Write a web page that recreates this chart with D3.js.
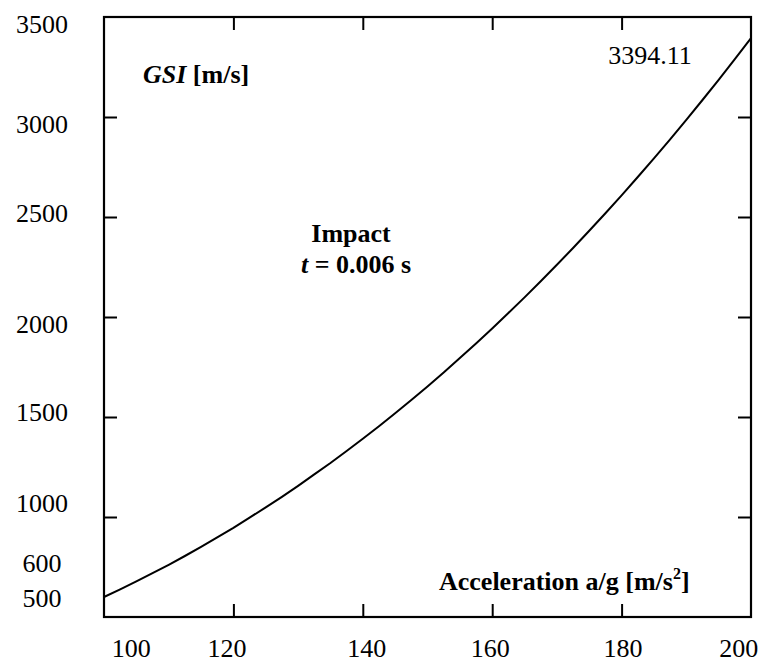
<!DOCTYPE html>
<html>
<head>
<meta charset="utf-8">
<script src="https://cdn.jsdelivr.net/npm/d3@7"></script>
<style>
  html, body { margin: 0; padding: 0; background: #fff; }
  svg { display: block; font-family: "Liberation Serif", "Times New Roman", serif; }
</style>
</head>
<body>
<svg id="chart" width="762" height="662"></svg>
<script>
// Acceleration a/g values (x) and GSI values (y)
const accel = [100, 102.5, 105, 107.5, 110, 112.5, 115, 117.5, 120, 122.5, 125,
               127.5, 130, 132.5, 135, 137.5, 140, 142.5, 145, 147.5, 150,
               152.5, 155, 157.5, 160, 162.5, 165, 167.5, 170, 172.5, 175,
               177.5, 180, 182.5, 185, 187.5, 190, 192.5, 195, 197.5, 200];
const gsi   = [600, 638, 678, 719, 761, 805, 851, 898, 946, 997, 1048,
               1101, 1156, 1213, 1270, 1330, 1391, 1454, 1519, 1585, 1653,
               1723, 1795, 1868, 1943, 2020, 2098, 2179, 2261, 2345, 2431,
               2519, 2608, 2700, 2793, 2888, 2986, 3085, 3186, 3289, 3394.11];

// Axis ticks
const xTicks = [120, 140, 160, 180];
const yTicks = [1000, 1500, 2000, 2500, 3000];
// Tick labels and the value each label sits at in the reference
const xTickLabels = ["100", "120", "140", "160", "180", "200"];
const xLabelAt    = [104.2, 119, 140.6, 159.7, 180.2, 198.1];
const yTickLabels = ["3500", "3000", "2500", "2000", "1500", "1000", "600", "500"];
const yLabelAt    = [3465, 2965, 2520, 1965, 1525, 1070, 770, 595];

const svg = d3.select("#chart");
const L = 104, R = 751, T = 17, B = 617;

const x = d3.scaleLinear().domain([100, 200]).range([L, R]);
const y = d3.scaleLinear().domain([500, 3500]).range([B, T]);

const tickLen = 13;
const fs = 26;

// ticks (inward) on all four sides
const axisStyle = g => {
  g.select(".domain").remove();
  g.selectAll(".tick line").attr("stroke", "#000").attr("stroke-width", 2);
  g.selectAll(".tick text").remove();
};
svg.append("g").attr("transform", `translate(0,${B})`)
  .call(d3.axisTop(x).tickValues(xTicks).tickSize(tickLen)).call(axisStyle);
svg.append("g").attr("transform", `translate(0,${T})`)
  .call(d3.axisBottom(x).tickValues(xTicks).tickSize(tickLen)).call(axisStyle);
svg.append("g").attr("transform", `translate(${L},0)`)
  .call(d3.axisRight(y).tickValues(yTicks).tickSize(tickLen)).call(axisStyle);
svg.append("g").attr("transform", `translate(${R},0)`)
  .call(d3.axisLeft(y).tickValues(yTicks).tickSize(tickLen)).call(axisStyle);

// frame
svg.append("rect")
  .attr("x", x(100)).attr("y", y(3500))
  .attr("width", x(200) - x(100)).attr("height", y(500) - y(3500))
  .attr("fill", "none").attr("stroke", "#000").attr("stroke-width", 2.2);

// curve
const pts = accel.map((a, i) => [a, gsi[i]]);
svg.append("path")
  .datum(pts)
  .attr("d", d3.line().x(d => x(d[0])).y(d => y(d[1])))
  .attr("fill", "none").attr("stroke", "#000").attr("stroke-width", 2)
  .attr("stroke-linejoin", "round");

// x tick labels
svg.append("g").selectAll("text")
  .data(xTickLabels)
  .join("text")
  .attr("x", (d, i) => x(xLabelAt[i]))
  .attr("y", 657)
  .attr("text-anchor", "middle")
  .attr("font-size", fs)
  .text(d => d);

// y tick labels
svg.append("g").selectAll("text")
  .data(yTickLabels)
  .join("text")
  .attr("x", 42)
  .attr("y", (d, i) => y(yLabelAt[i]))
  .attr("dy", "0.35em")
  .attr("text-anchor", "middle")
  .attr("font-size", fs)
  .text(d => d);

// annotations
const gsiLab = svg.append("text").attr("x", 143).attr("y", 83)
  .attr("font-size", fs).attr("font-weight", "bold");
gsiLab.append("tspan").attr("font-style", "italic").text("GSI");
gsiLab.append("tspan").text(" [m/s]");

svg.append("text").attr("x", 650).attr("y", 64)
  .attr("text-anchor", "middle").attr("font-size", fs)
  .text("3394.11");

svg.append("text").attr("x", 351).attr("y", 242)
  .attr("text-anchor", "middle").attr("font-size", fs).attr("font-weight", "bold")
  .text("Impact");
const tLab = svg.append("text").attr("x", 356).attr("y", 273)
  .attr("text-anchor", "middle").attr("font-size", fs).attr("font-weight", "bold");
tLab.append("tspan").attr("font-style", "italic").text("t");
tLab.append("tspan").text(" = 0.006 s");

const accLab = svg.append("text").attr("x", 439).attr("y", 590)
  .attr("font-size", fs).attr("font-weight", "bold");
accLab.append("tspan").text("Acceleration a/g [m/s");
accLab.append("tspan").attr("font-size", 16).attr("dy", -11).text("2");
accLab.append("tspan").attr("dy", 11).text("]");
</script>
</body>
</html>
